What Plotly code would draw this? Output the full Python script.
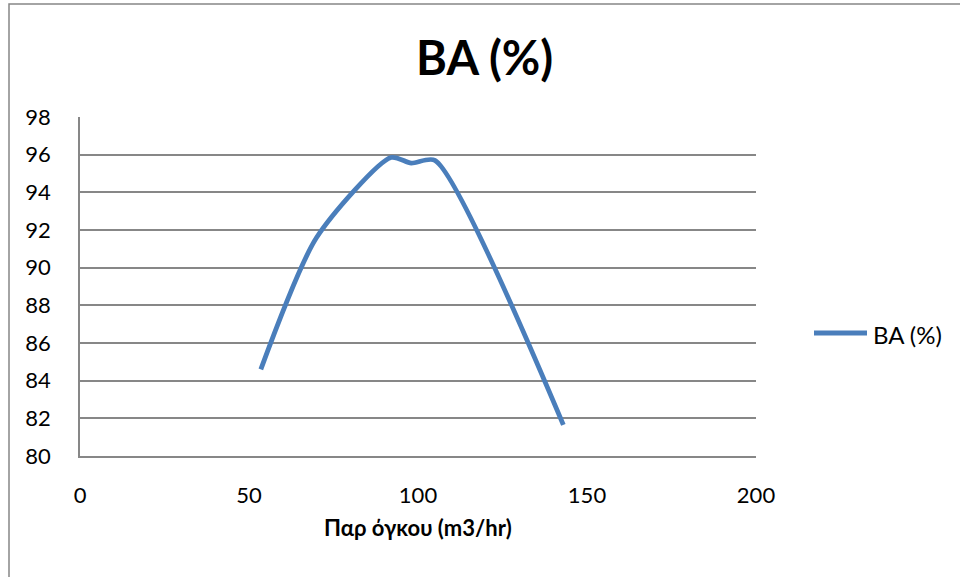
import plotly.graph_objects as go

# Volume flow rate (m3/hr) and BA (%) readings
flow_rate = [53.5, 70, 92, 98, 105, 143]
ba_percent = [84.6, 91.6, 95.85, 95.55, 95.7, 81.65]
series_name = "BA (%)"

x_ticks = [0, 50, 100, 150, 200]
y_ticks = [80, 82, 84, 86, 88, 90, 92, 94, 96, 98]

FONT = "Lato, Carlito, Calibri, sans-serif"
LINE_BLUE = "#4A7EBB"
GRID = "#878787"

W, H = 960, 577
L, R, T, B = 80, 756, 117, 456  # plot area in pixels


def px_x(p):
    return (p - L) / (R - L)


def px_y(p):
    return (B - p) / (B - T)


fig = go.Figure()
fig.add_trace(go.Scatter(
    x=flow_rate, y=ba_percent, mode="lines", name=series_name,
    line=dict(color=LINE_BLUE, width=4.8, shape="spline", smoothing=0.7),
    showlegend=False,
))

fig.update_layout(
    width=W, height=H,
    margin=dict(l=L, r=W - R, t=T, b=H - B, pad=0),
    paper_bgcolor="white", plot_bgcolor="white",
    font=dict(family=FONT, size=22, color="#000000"),
    xaxis=dict(
        range=[0, 200], tickvals=x_ticks, showgrid=False, zeroline=False,
        showline=True, linecolor=GRID, linewidth=1.5,
        ticks="outside", ticklen=19, tickcolor="rgba(0,0,0,0)",
        tickfont=dict(family=FONT, size=22),
        title=dict(text="<b>Παρ όγκου (m3/hr)</b>", font=dict(family=FONT, size=22), standoff=13),
    ),
    yaxis=dict(
        range=[80, 98], tickvals=y_ticks, showgrid=True, gridcolor=GRID, gridwidth=1.5,
        zeroline=False, showline=True, linecolor=GRID, linewidth=1.5,
        ticks="outside", ticklen=23, tickcolor="rgba(0,0,0,0)",
        tickfont=dict(family=FONT, size=22),
    ),
    annotations=[
        dict(
            text="<b>BA (%)</b>", x=px_x(484), y=px_y(57), xref="paper", yref="paper",
            xanchor="center", yanchor="middle", showarrow=False,
            font=dict(family=FONT, size=47, color="#000000"),
        ),
        # legend entry label
        dict(
            text=series_name, x=px_x(871), y=px_y(334), xref="paper", yref="paper",
            xanchor="left", yanchor="middle", showarrow=False,
            font=dict(family=FONT, size=24, color="#000000"),
        ),
    ],
    shapes=[
        dict(
            type="rect", xref="paper", yref="paper",
            x0=px_x(9), x1=px_x(970), y0=px_y(590), y1=px_y(4),
            line=dict(color="#868686", width=1.5), fillcolor="rgba(0,0,0,0)", layer="below",
        ),
        # legend entry line sample
        dict(
            type="line", xref="paper", yref="paper",
            x0=px_x(814), x1=px_x(867), y0=px_y(333), y1=px_y(333),
            line=dict(color=LINE_BLUE, width=4.8),
        ),
    ],
)

fig.write_html("out.html")
